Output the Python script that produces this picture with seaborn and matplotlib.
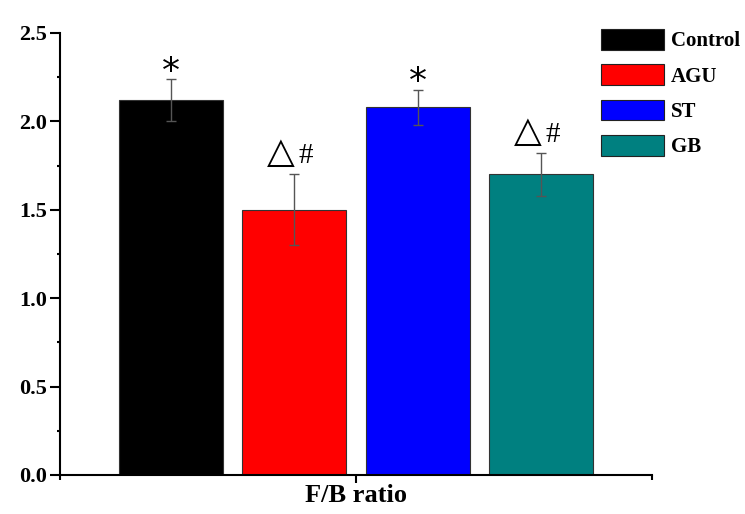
import matplotlib
matplotlib.use("Agg")
import matplotlib.pyplot as plt
import seaborn as sns
import pandas as pd
from matplotlib.ticker import MultipleLocator, FixedLocator
from matplotlib.patches import Patch

category = ["F/B ratio"]
groups = ["Control", "AGU", "ST", "GB"]
values = [2.12, 1.50, 2.08, 1.70]
errors = [0.12, 0.20, 0.10, 0.12]
marks = ["*", "△#", "*", "△#"]
colors = ["#000000", "#FF0000", "#0000FF", "#008080"]

df = pd.DataFrame({"cat": category * len(groups), "group": groups, "value": values})

sns.set_style("ticks", {"axes.edgecolor": "black", "text.color": "black",
                        "xtick.color": "black", "ytick.color": "black"})
plt.rcParams['font.family'] = ['Liberation Serif', 'DejaVu Serif']

fig = plt.figure(figsize=(7.45, 5.14), dpi=100)
ax = fig.add_axes([60/745, 1-475/514, 592/745, (475-33)/514])

sns.barplot(data=df, x="cat", y="value", hue="group", hue_order=groups,
            palette=colors, saturation=1, width=0.834, gap=0.16, errorbar=None,
            edgecolor="#333333", linewidth=0.8, legend=False, ax=ax)

for cont, err, mk in zip(ax.containers, errors, marks):
    p = cont.patches[0]
    cx = p.get_x() + p.get_width() / 2
    h = p.get_height()
    ax.errorbar(cx, h, yerr=err, fmt="none", ecolor="#555555",
                elinewidth=1.0, capsize=3.3, capthick=1.0, zorder=5)
    top = h + err
    if mk == "*":
        ax.annotate("*", xy=(cx, top), xytext=(0, -7), textcoords="offset points",
                    ha="center", va="bottom", fontsize=26,
                    family=["DejaVu Sans"], color="black")
    else:
        ax.annotate("△", xy=(cx, top), xytext=(-9.5, 3), textcoords="offset points",
                    ha="center", va="bottom", fontsize=26,
                    family=["DejaVu Sans"], color="black")
        ax.annotate("#", xy=(cx, top), xytext=(8, 4), textcoords="offset points",
                    ha="center", va="bottom", fontsize=21,
                    family=["Liberation Serif", "DejaVu Serif"], color="black")

ax.set_ylim(0, 2.5)
ax.set_xlim(-0.5, 0.5)
ax.yaxis.set_minor_locator(MultipleLocator(0.25))
ax.xaxis.set_minor_locator(FixedLocator([-0.5, 0.5]))
ax.set_xlabel("")
ax.set_ylabel("")
ax.set_yticks([0, 0.5, 1.0, 1.5, 2.0, 2.5])
ax.set_yticklabels(["0.0", "0.5", "1.0", "1.5", "2.0", "2.5"])

for lab in ax.get_yticklabels():
    lab.set_fontweight("bold")
    lab.set_fontsize(16)
    lab.set_color("black")
for lab in ax.get_xticklabels():
    lab.set_fontweight("bold")
    lab.set_fontsize(19)
    lab.set_color("black")

ax.tick_params(axis="y", which="major", length=7, width=1.5, direction="out", pad=2, color="black")
ax.tick_params(axis="y", which="minor", length=2.5, width=1.5, direction="out", color="black")
ax.tick_params(axis="x", which="major", length=5.5, width=1.5, direction="out", pad=1, color="black")
ax.tick_params(axis="x", which="minor", length=3.5, width=1.5, direction="out", color="black")

sns.despine(ax=ax)
for s in ["left", "bottom"]:
    ax.spines[s].set_linewidth(1.5)
    ax.spines[s].set_color("black")

handles = [Patch(facecolor=c, edgecolor="#222222", linewidth=0.8) for c in colors]
leg = fig.legend(handles, groups, loc="upper left",
                 bbox_to_anchor=(601/745, 1-29/514), frameon=False,
                 borderpad=0, borderaxespad=0, handlelength=3.0, handleheight=1.15,
                 labelspacing=0.62, handletextpad=0.35,
                 prop={"family": "Liberation Serif", "weight": "bold", "size": 15})

fig.savefig("out.png", dpi=100)
